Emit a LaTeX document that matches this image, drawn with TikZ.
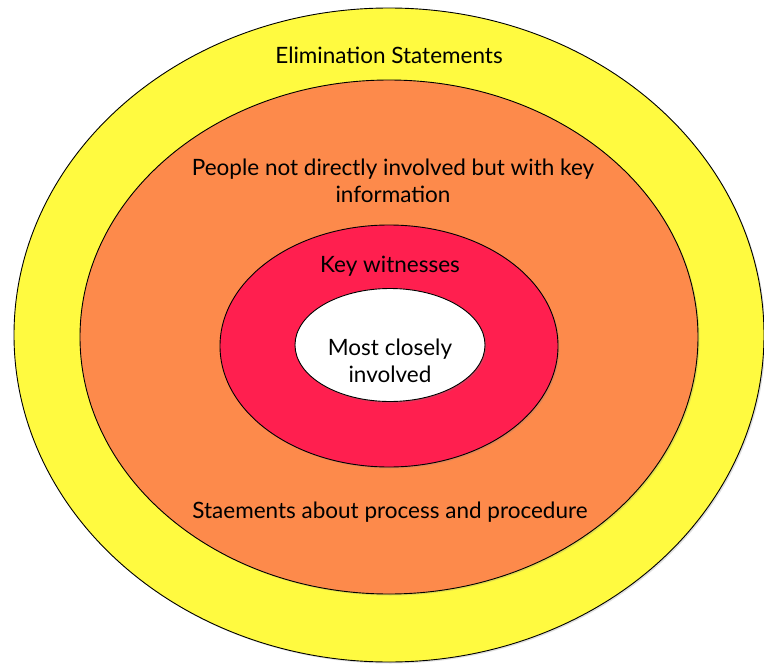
\documentclass[tikz,border=0pt]{standalone}
\usepackage{fontspec}
\setmainfont{Lato}
\usetikzlibrary{shapes.geometric,shadows}
\definecolor{ringyellow}{RGB}{255,250,64}
\definecolor{ringorange}{RGB}{253,138,75}
\definecolor{ringred}{RGB}{255,31,79}
\tikzset{
  ring/.style={draw,ellipse,line width=0.9pt,inner sep=0pt,
    drop shadow={opacity=0.25,shadow xshift=1.5pt,shadow yshift=-1.5pt}},
  label/.style={font=\fontsize{22.5}{27}\selectfont,align=center}
}

\begin{document}
\begin{tikzpicture}[x=1pt,y=-1pt]
\useasboundingbox (0,0) rectangle (764,664);
\node[ring,fill=ringyellow,minimum width=750pt,minimum height=654pt] (outer) at (389,335) {};
\node[ring,fill=ringorange,minimum width=618pt,minimum height=514pt] (middle) at (389,337) {};
\node[ring,fill=ringred,minimum width=338pt,minimum height=242pt] (inner) at (389,346) {};
\node[ring,fill=white,minimum width=190pt,minimum height=113pt] (core) at (390,345) {};
\node[label,anchor=base] (elim) at (389,63) {Elimination Statements};
\node[label] (people) at (393,181) {People not directly involved but with key\\information};
\node[label,anchor=base] (key) at (390,272) {Key witnesses};
\node[label] (most) at (390,361) {Most closely\\involved};
\node[label,anchor=base] (proc) at (390,518) {Staements about process and procedure};
\end{tikzpicture}
\end{document}
